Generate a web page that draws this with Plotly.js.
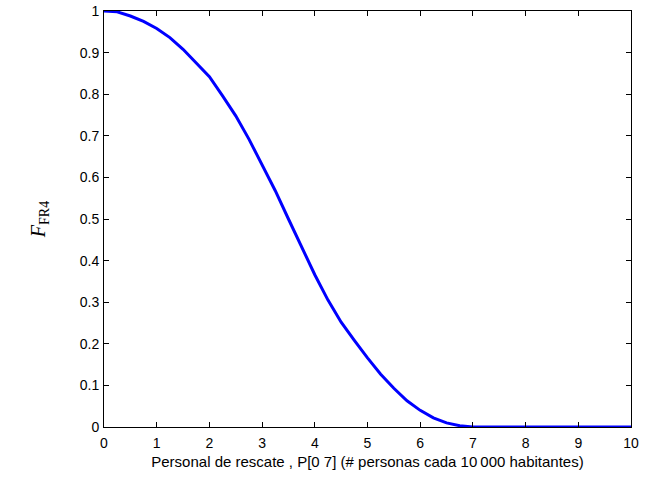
<!DOCTYPE html>
<html>
<head>
<meta charset="utf-8">
<script src="https://cdn.plot.ly/plotly-3.0.1.min.js"></script>
<style>html,body{margin:0;padding:0;background:#fff;}#chart{width:647px;height:480px;}</style>
</head>
<body>
<div id="chart"></div>
<script>
var personal = [0, 0.25, 0.5, 0.75, 1, 1.25, 1.5, 1.75, 2, 2.25, 2.5, 2.75, 3, 3.25, 3.5, 3.75, 4, 4.25, 4.5, 4.75, 5, 5.25, 5.5, 5.75, 6, 6.25, 6.5, 6.75, 7, 7.5, 8, 8.5, 9, 9.5, 10];
var fFR4 = [1.0, 0.998, 0.988, 0.975, 0.958, 0.936, 0.908, 0.876, 0.842, 0.796, 0.748, 0.692, 0.630, 0.568, 0.500, 0.432, 0.366, 0.305, 0.252, 0.208, 0.166, 0.127, 0.093, 0.063, 0.040, 0.022, 0.010, 0.003, 0, 0, 0, 0, 0, 0, 0];
var xTicks = [0, 1, 2, 3, 4, 5, 6, 7, 8, 9, 10];
var yTicks = [0, 0.1, 0.2, 0.3, 0.4, 0.5, 0.6, 0.7, 0.8, 0.9, 1];
var yTickText = ['0', '0.1', '0.2', '0.3', '0.4', '0.5', '0.6', '0.7', '0.8', '0.9', '1'];

var trace = {
  x: personal, y: fFR4, type: 'scatter', mode: 'lines',
  line: {color: '#0000ff', width: 3}, hoverinfo: 'none'
};
var axisCommon = {
  showgrid: false, zeroline: false, showline: true, linecolor: '#000', linewidth: 1,
  mirror: 'ticks', ticks: 'inside', ticklen: 5, tickcolor: '#000', tickwidth: 1,
  tickfont: {family: 'Liberation Sans, Arial, sans-serif', size: 14, color: '#000'}
};
var layout = {
  width: 647, height: 480,
  margin: {l: 104, r: 16, t: 11, b: 53},
  paper_bgcolor: '#fff', plot_bgcolor: '#fff',
  showlegend: false,
  xaxis: Object.assign({}, axisCommon, {
    range: [0, 10], tickmode: 'array', tickvals: xTicks, ticklabelstandoff: 3,
    title: {text: 'Personal de rescate , P[0 7] (# personas cada 10\u2009000 habitantes)',
            font: {family: 'Liberation Sans, Arial, sans-serif', size: 15, color: '#000'}, standoff: 6}
  }),
  yaxis: Object.assign({}, axisCommon, {
    range: [0, 1], tickmode: 'array', tickvals: yTicks, ticktext: yTickText, ticklabelstandoff: 1,
    title: {text: '<i>F</i><sub>FR4</sub>',
            font: {family: 'Liberation Serif, Times New Roman, serif', size: 20, color: '#000'}, standoff: 28}
  })
};
Plotly.newPlot('chart', [trace], layout, {staticPlot: true, displayModeBar: false});
</script>
</body>
</html>
